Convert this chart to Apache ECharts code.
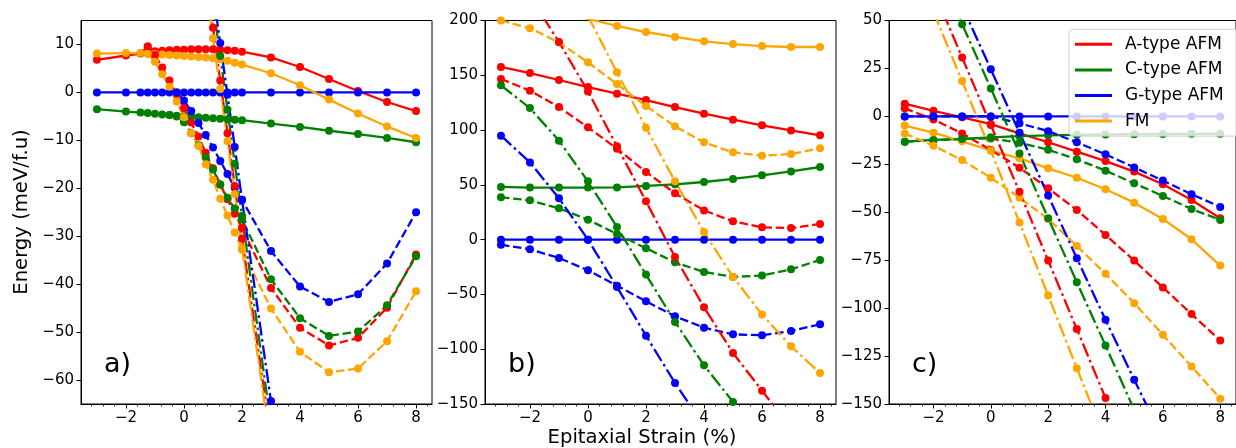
<!DOCTYPE html>
<html><head><meta charset="utf-8">
<script src="https://cdn.jsdelivr.net/npm/echarts@6/dist/echarts.min.js"></script>
<style>html,body{margin:0;padding:0;background:#fff}#c{width:1236px;height:448px}</style>
</head><body><div id="c"></div>
<script>
// ---------- ticks / labels ----------
const xTicks = [-2, 0, 2, 4, 6, 8];
const yTicksA = [-60, -50, -40, -30, -20, -10, 0, 10];
const yTicksB = [-150, -100, -50, 0, 50, 100, 150, 200];
const yTicksC = [-150, -125, -100, -75, -50, -25, 0, 25, 50];
const legendNames = ['A-type AFM', 'C-type AFM', 'G-type AFM', 'FM'];
const panelLabels = ['a)', 'b)', 'c)'];
const xLabel = 'Epitaxial Strain (%)';
const yLabel = 'Energy (meV/f.u)';

// ---------- panel a ----------
const xA = [-3, -2, -1.5, -1.25, -1, -0.75, -0.5, -0.25, 0, 0.25, 0.5, 0.75, 1, 1.25, 1.5, 1.75, 2, 3, 4, 5, 6, 7, 8];
const aRedSolid    = [6.8, 7.7, 8.1, 9.6, 8.6, 8.7, 8.8, 8.9, 8.9, 9.0, 9.0, 9.0, 9.0, 8.9, 8.8, 8.7, 8.5, 7.3, 5.3, 2.8, 0.3, -2.0, -3.9];
const aGreenSolid  = [-3.5, -4.0, -4.2, -4.3, -4.45, -4.6, -4.7, -4.85, -5.0, -5.1, -5.2, -5.3, -5.4, -5.5, -5.6, -5.7, -5.8, -6.5, -7.2, -8.0, -8.7, -9.5, -10.4];
const aBlueSolid   = [0, 0, 0, 0, 0, 0, 0, 0, 0, 0, 0, 0, 0, 0, 0, 0, 0, 0, 0, 0, 0, 0, 0];
const aOrangeSolid = [8.1, 8.2, 8.2, 8.1, 8.0, 7.9, 7.8, 7.7, 7.6, 7.5, 7.4, 7.3, 7.1, 6.9, 6.6, 6.2, 5.8, 4.0, 1.5, -1.5, -4.4, -7.1, -9.5];
const aRedDash    = [null, null, null, 9.6, 7.8, 5.2, 2.5, -0.4, -3.3, -6.3, -9.2, -12.6, -15.8, -19.2, -22.3, -25.3, -28.3, -40.8, -49.1, -52.8, -51.2, -44.9, -33.8];
const aGreenDash  = [null, null, null, null, null, null, -4.7, -5.0, -6.2, -8.5, -11.0, -13.6, -16.1, -19.2, -22.0, -24.2, -26.5, -39.0, -47.1, -50.8, -49.9, -44.4, -34.2];
const aBlueDash   = [null, null, null, null, null, null, null, 0, -1.7, -3.9, -6.4, -8.9, -11.5, -14.3, -17.0, -19.9, -22.4, -33.1, -40.5, -43.7, -42.1, -35.7, -25.0];
const aOrangeDash = [null, null, null, 8.0, 6.4, 3.8, 1.2, -1.9, -5.2, -8.5, -11.2, -15.0, -18.2, -22.2, -25.7, -29.2, -32.8, -45.1, -54.1, -58.4, -57.6, -51.9, -41.5];
const xAdd = [0.75, 1, 1.25, 1.5, 1.75, 2, 3];
const aRedDD    = [24.5, 13.5, 2.5, -8.5, -19.5, -30.5, -72];
const aGreenDD  = [29, 18.4, 7.6, -3.6, -14.9, -25.8, -69.3];
const aBlueDD   = [31.5, 21, 10.3, -0.5, -11.4, -22.4, -64.4];
const aOrangeDD = [22, 11.3, 0.7, -10.2, -21.2, -32.5, -74];

// ---------- panels b, c ----------
const xBC = [-3, -2, -1, 0, 1, 2, 3, 4, 5, 6, 7, 8];
const bRedSolid    = [157.6, 152, 145.7, 139.3, 133.2, 127.4, 121, 115, 109.5, 104.3, 99.7, 95.2];
const bGreenSolid  = [48.1, 47.5, 47.5, 47.5, 47.7, 49, 50.5, 52.6, 55.4, 58.7, 62.3, 66.3];
const bBlueSolid   = [0, 0, 0, 0, 0, 0, 0, 0, 0, 0, 0, 0];
const bOrangeSolid = [null, null, 208, 201.5, 195, 189.5, 185, 181, 178.5, 176.7, 175.8, 175.8];
const bRedDash    = [146.6, 136, 121, 102.5, 83, 61.8, 42.3, 26.7, 16.7, 11.2, 10.6, 14.3];
const bGreenDash  = [38.6, 35.9, 28.6, 18.2, 5.2, -7.9, -20.7, -29.5, -34, -32.8, -27.1, -18.5];
const bBlueDash   = [-4.6, -8.8, -16.7, -28, -42, -56.3, -70, -80.3, -86.4, -87.3, -83.3, -77.3];
const bOrangeDash = [200, 193, 180, 161.8, 142, 122, 103.4, 88.8, 79.7, 76.6, 78.2, 83.3];
const bRedDD    = [null, 222, 180.4, 135.3, 85.2, 35, -15.8, -61.7, -103.4, -137.8, -172, null];
const bGreenDD  = [140.8, 120.1, 90.3, 53.2, 11.6, -31.9, -75.1, -114.7, -148.1, -182, null, null];
const bBlueDD   = [94.9, 70.5, 37.7, 0, -43.2, -87.6, -130.8, -170, null, null, null, null];
const bOrangeDD = [null, null, null, 204, 152.7, 102.2, 53.2, 7, -34, -68.4, -97.3, -121.7];

const cRedSolid    = [6.6, 2.9, -0.5, -4.0, -8.9, -13.5, -18.4, -23.3, -28.8, -35.4, -43.6, -53.1];
const cGreenSolid  = [-13.2, -12.3, -11.7, -10.9, -10.3, -9.9, -9.6, -9.4, -9.3, -9.2, -9.1, -9.0];
const cBlueSolid   = [0, 0, 0, 0, 0, 0, 0, 0, 0, 0, 0, 0];
const cOrangeSolid = [-4.8, -8.5, -13.0, -17.8, -21.9, -27.1, -32.0, -38.0, -45.0, -53.5, -64.1, -77.8];
const cRedDash    = [4.2, -1.6, -8.9, -17.5, -26.8, -37.5, -48.8, -61.8, -75.2, -89.2, -103.1, -116.9];
const cGreenDash  = [-13.2, -12.5, -11.8, -11.5, -13.7, -17.4, -22.4, -28.3, -34.9, -41.5, -48.3, -54];
const cBlueDash   = [0, 0, 0, 0, -3.6, -7.7, -13.5, -19.8, -26.6, -33.5, -40.6, -47.2];
const cOrangeDash = [-8.9, -15.3, -22.8, -32.0, -42.4, -53.5, -67.6, -82.1, -97.4, -113.9, -130.4, -147.2];
const cRedDD    = [null, 66, 30.7, -4.5, -39.3, -75.2, -110.9, -146.9, -183, null, null, null];
const cGreenDD  = [null, 82, 48.1, 14.6, -19.3, -53.1, -86.5, -119.5, -153, null, null, null];
const cBlueDD   = [null, null, 57.5, 24.6, -8.5, -41.3, -74, -106.1, -137.3, -168, null, null];
const cOrangeDD = [null, 54.5, 18.4, -17.9, -55.4, -93.4, -131.3, -169, null, null, null, null];

// ---------- styling ----------
const COL = {red: '#ff0000', green: '#008000', blue: '#0000ff', orange: '#ffa500'};
const DASH = {solid: 'solid', dash: [8.5, 3.7], dd: [14, 3.7, 2.6, 3.7]};
const FONT = 'DejaVu Sans';
const fmt = v => (v < 0 ? '\u2212' + (-v) : String(v));

const panels = [
  {x: xA, xdd: xAdd, min: -65, max: 15, ticks: yTicksA,
   solid: [aRedSolid, aGreenSolid, aBlueSolid, aOrangeSolid],
   dash: [aRedDash, aGreenDash, aBlueDash, aOrangeDash],
   dd: [aRedDD, aGreenDD, aBlueDD, aOrangeDD]},
  {x: xBC, xdd: xBC, min: -150, max: 200, ticks: yTicksB,
   solid: [bRedSolid, bGreenSolid, bBlueSolid, bOrangeSolid],
   dash: [bRedDash, bGreenDash, bBlueDash, bOrangeDash],
   dd: [bRedDD, bGreenDD, bBlueDD, bOrangeDD]},
  {x: xBC, xdd: xBC, min: -150, max: 50, ticks: yTicksC,
   solid: [cRedSolid, cGreenSolid, cBlueSolid, cOrangeSolid],
   dash: [cRedDash, cGreenDash, cBlueDash, cOrangeDash],
   dd: [cRedDD, cGreenDD, cBlueDD, cOrangeDD]}
];
const colorOrder = ['red', 'green', 'blue', 'orange'];
const gridLefts = [81, 485, 889];
const GRID_TOP = 20.5, GRID_H = 383.5, GRID_W = 351;

const grids = [], xAxes = [], yAxes = [], series = [], graphics = [];
panels.forEach((p, i) => {
  grids.push({left: gridLefts[i], top: GRID_TOP, width: GRID_W, height: GRID_H,
    show: true, borderColor: '#000', borderWidth: 1, backgroundColor: 'transparent'});
  xAxes.push({gridIndex: i, type: 'value', min: -3.55, max: 8.55,
    axisLine: {show: true, onZero: false, lineStyle: {color: '#000', width: 1}},
    axisTick: {show: true, length: 4.5, customValues: xTicks, lineStyle: {color: '#000', width: 1}},
    minorTick: {show: true, splitNumber: 5, length: 2.5, lineStyle: {color: '#000', width: 0.8}},
    axisLabel: {customValues: xTicks, formatter: fmt, fontSize: 15, color: '#000', fontFamily: FONT, margin: 7},
    splitLine: {show: false}, minorSplitLine: {show: false}});
  yAxes.push({gridIndex: i, type: 'value', min: p.min, max: p.max,
    axisLine: {show: true, onZero: false, lineStyle: {color: '#000', width: 1}},
    axisTick: {show: true, length: 4.5, customValues: p.ticks, lineStyle: {color: '#000', width: 1}},
    axisLabel: {customValues: p.ticks, formatter: fmt, fontSize: 15, color: '#000', fontFamily: FONT, margin: 7},
    splitLine: {show: false}});
  const mk = (xs, ys, color, dash, name) => ({
    type: 'line', name: name, xAxisIndex: i, yAxisIndex: i,
    data: xs.map((x, k) => [x, ys[k]]).filter(d => d[1] !== null && d[1] !== undefined),
    symbol: 'circle', symbolSize: 8, clip: true, animation: false,
    itemStyle: {color: COL[color]},
    lineStyle: {color: COL[color], width: 2.3, type: dash, cap: 'butt'},
    emphasis: {disabled: true}, z: 2
  });
  colorOrder.forEach((c, k) => series.push(mk(p.x, p.solid[k], c, DASH.solid, i === 2 ? legendNames[k] : 'p' + i + c + 's')));
  colorOrder.forEach((c, k) => series.push(mk(p.x, p.dash[k], c, DASH.dash, 'p' + i + c + 'd')));
  colorOrder.forEach((c, k) => series.push(mk(p.xdd, p.dd[k], c, DASH.dd, 'p' + i + c + 'dd')));
  graphics.push({type: 'text', x: gridLefts[i] + 23, y: 365,
    style: {text: panelLabels[i], fontSize: 27, fontFamily: FONT, fill: '#000',
      align: 'left', verticalAlign: 'middle', textAlign: 'left', textVerticalAlign: 'middle'}});
});
graphics.push({type: 'text', x: 642, y: 437.5,
  style: {text: xLabel, fontSize: 19.6, fontFamily: FONT, fill: '#000',
    align: 'center', verticalAlign: 'middle', textAlign: 'center', textVerticalAlign: 'middle'}});
graphics.push({type: 'text', x: 22, y: 212, rotation: Math.PI / 2,
  style: {text: yLabel, fontSize: 19.6, fontFamily: FONT, fill: '#000',
    align: 'center', verticalAlign: 'middle', textAlign: 'center', textVerticalAlign: 'middle'}});

const chart = echarts.init(document.getElementById('c'), null, {renderer: 'canvas'});
chart.setOption({
  animation: false,
  backgroundColor: '#fff',
  grid: grids, xAxis: xAxes, yAxis: yAxes, series: series,
  legend: {show: true, data: legendNames, orient: 'vertical', left: 1069, top: 29.3,
    icon: 'rect', itemWidth: 37, itemHeight: 3, itemGap: 8.6, padding: [6.5, 20, 6.5, 6],
    backgroundColor: 'rgba(255,255,255,0.8)', borderColor: '#cccccc', borderWidth: 1, borderRadius: 4,
    selectedMode: false,
    textStyle: {fontSize: 17, color: '#000', fontFamily: FONT, padding: [0, 0, 0, 8]}},
  graphic: graphics
});
</script></body></html>
